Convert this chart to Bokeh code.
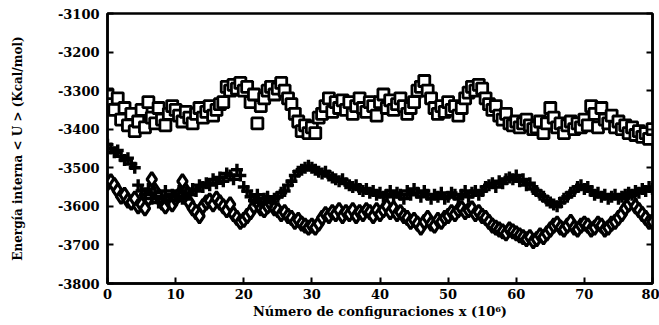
import pandas as pd
from bokeh.plotting import figure
from bokeh.models import FixedTicker, LinearAxis, Range1d, ColumnDataSource
from bokeh.embed import file_html
from bokeh.resources import INLINE

# x positions (configurations x 10^6), step 0.5
x_vals = [i * 0.5 for i in range(161)]

squares = [
    -3310, -3335, -3350, -3320, -3375, -3345, -3390, -3360, -3405, -3380,
    -3350, -3395, -3330, -3370, -3385, -3345, -3375, -3390, -3360, -3340,
    -3350, -3365, -3380, -3355, -3370, -3385, -3360, -3345, -3370, -3355,
    -3340, -3365, -3350, -3335, -3330, -3290, -3300, -3285, -3295, -3280,
    -3300, -3290, -3330, -3310, -3385, -3340, -3320, -3300, -3290, -3310,
    -3295, -3280, -3300, -3320, -3335, -3360, -3380, -3405, -3390, -3410,
    -3395, -3410, -3370, -3360, -3340, -3320, -3355, -3330, -3345, -3325,
    -3350, -3330, -3360, -3340, -3320, -3345, -3355, -3330, -3340, -3365,
    -3330, -3310, -3345, -3325, -3350, -3335, -3320, -3340, -3360, -3345,
    -3330, -3300, -3290, -3275, -3300, -3320, -3345, -3360, -3340, -3355,
    -3330, -3350, -3340, -3365, -3345, -3320, -3305, -3290, -3300, -3285,
    -3295, -3320, -3335, -3350, -3340, -3365, -3375, -3360, -3385, -3390,
    -3380, -3395, -3385, -3375, -3390, -3400, -3395, -3380, -3410, -3385,
    -3345, -3370, -3395, -3385, -3410, -3390, -3380, -3400, -3385, -3395,
    -3375, -3390, -3340, -3360, -3395, -3345, -3375, -3385, -3365, -3395,
    -3380, -3400, -3390, -3410, -3395, -3415, -3405, -3420, -3410, -3425,
    -3400,
]

crosses = [
    -3440, -3450, -3460, -3455, -3470, -3480, -3475, -3490, -3500, -3545,
    -3560, -3570, -3555, -3580, -3565, -3590, -3575, -3560, -3585, -3570,
    -3575, -3560, -3580, -3565, -3570, -3555, -3560, -3545, -3550, -3540,
    -3545, -3530, -3540, -3525, -3535, -3515, -3520, -3530, -3505, -3520,
    -3550, -3560, -3575, -3585, -3570, -3590, -3580, -3575, -3590, -3580,
    -3575, -3565, -3560, -3545, -3535, -3520, -3510, -3505, -3500, -3495,
    -3500, -3505, -3510, -3515, -3510, -3520, -3525, -3530, -3535, -3530,
    -3540, -3545, -3550, -3545, -3555, -3560, -3555, -3565, -3560, -3570,
    -3565, -3575, -3570, -3560, -3575, -3565, -3570, -3580, -3560, -3570,
    -3555, -3565, -3575, -3560, -3570, -3580, -3570, -3575, -3565, -3580,
    -3575, -3565, -3570, -3580, -3570, -3560, -3575, -3565, -3560, -3570,
    -3560, -3550, -3545, -3540, -3550, -3535, -3540, -3530, -3525, -3530,
    -3520, -3535, -3530, -3545, -3540, -3555, -3560, -3570, -3575, -3585,
    -3590, -3595, -3600, -3590, -3580, -3575, -3565, -3560, -3550, -3545,
    -3555, -3550, -3560, -3570, -3565, -3575, -3570, -3580, -3575, -3570,
    -3580, -3575, -3570, -3565, -3570, -3560, -3565, -3555, -3560, -3550,
    -3555,
]

diamonds = [
    -3540, -3535, -3545, -3560, -3575, -3570, -3585, -3590, -3580, -3600,
    -3595, -3605, -3580, -3530, -3560, -3575, -3590, -3600, -3585, -3595,
    -3580, -3570, -3535, -3560, -3590, -3605, -3615, -3625, -3600, -3590,
    -3585, -3595, -3580, -3590, -3600, -3610, -3595, -3620, -3630, -3640,
    -3635, -3625, -3615, -3600, -3590, -3605, -3610, -3600, -3595, -3605,
    -3610, -3620, -3615, -3625, -3630, -3640, -3635, -3645, -3650, -3655,
    -3650, -3655, -3645, -3630, -3620, -3625, -3615, -3620, -3610, -3625,
    -3615, -3620, -3610, -3625, -3615, -3620, -3610, -3615, -3625, -3610,
    -3620, -3610, -3600, -3615, -3605, -3620, -3615, -3625, -3630, -3640,
    -3635, -3645, -3655, -3640, -3630, -3645, -3650, -3635, -3640, -3630,
    -3625, -3615, -3620, -3610, -3605, -3615, -3610, -3605, -3620, -3615,
    -3625, -3630, -3640, -3650, -3655, -3660, -3665, -3670, -3660, -3665,
    -3670, -3675, -3680, -3685, -3680, -3690, -3685, -3675, -3680, -3670,
    -3660, -3650, -3645, -3655, -3660, -3650, -3640, -3655, -3660, -3650,
    -3645, -3650, -3660, -3655, -3645, -3650, -3660, -3655, -3645, -3640,
    -3630, -3620, -3605, -3595, -3585, -3600, -3610, -3620, -3630, -3640,
    -3640,
]

x_ticks = [0, 10, 20, 30, 40, 50, 60, 70, 80]
x_tick_labels = ["0", "10", "20", "30", "40", "50", "60", "70", "80"]
y_ticks = [-3800, -3700, -3600, -3500, -3400, -3300, -3200, -3100]
y_tick_labels = ["-3800", "-3700", "-3600", "-3500", "-3400", "-3300", "-3200", "-3100"]

x_title = "Número de configuraciones x (10⁶)"
y_title = "Energía interna < U > (Kcal/mol)"

FONT = "DejaVu Serif"

df = pd.DataFrame({"x": x_vals, "s": squares, "c": crosses, "d": diamonds})
df["s_avg"] = df["s"].rolling(9, center=True, min_periods=1).mean()
src = ColumnDataSource(df)

p = figure(width=659, height=325, output_backend="svg", toolbar_location=None,
           x_range=Range1d(0, 80), y_range=Range1d(-3800, -3100),
           min_border_left=107, min_border_right=7, min_border_top=13,
           min_border_bottom=42)
p.xgrid.visible = False
p.ygrid.visible = False
p.outline_line_color = "black"
p.outline_line_width = 2.5
p.background_fill_color = "white"
p.border_fill_color = "white"

p.line("x", "s_avg", source=src, line_color="black", line_width=1.5, line_dash="1 3")
p.scatter("x", "s", source=src, marker="square", size=11, fill_color="white",
          line_color="black", line_width=2.8)
p.scatter("x", "d", source=src, marker="diamond", size=14, fill_color="white",
          line_color="black", line_width=3.2)
p.scatter("x", "c", source=src, marker="cross", size=12,
          line_color="black", line_width=3.4)

def style_axis(ax):
    ax.axis_line_width = 2.5
    ax.axis_line_color = "black"
    ax.major_tick_in = 6
    ax.major_tick_out = 0
    ax.major_tick_line_width = 2
    ax.minor_tick_line_color = None
    ax.major_label_text_font = FONT
    ax.major_label_text_font_style = "bold"
    ax.major_label_text_color = "black"
    ax.axis_label_text_font = FONT
    ax.axis_label_text_font_style = "bold"
    ax.axis_label_text_color = "black"

xa = p.xaxis[0]
style_axis(xa)
xa.ticker = FixedTicker(ticks=x_ticks)
xa.major_label_overrides = dict(zip(x_ticks, x_tick_labels))
xa.major_label_text_font_size = "13px"
xa.major_label_standoff = 5
xa.axis_label = x_title
xa.axis_label_text_font_size = "13px"
xa.axis_label_standoff = 2

ya = p.yaxis[0]
style_axis(ya)
ya.ticker = FixedTicker(ticks=y_ticks)
ya.major_label_overrides = dict(zip(y_ticks, y_tick_labels))
ya.major_label_text_font_size = "13px"
ya.major_label_standoff = 8
ya.axis_label = y_title
ya.axis_label_text_font_size = "12px"
ya.axis_label_standoff = 30

ra = LinearAxis(ticker=FixedTicker(ticks=y_ticks))
style_axis(ra)
ra.major_label_overrides = {t: "" for t in y_ticks}
ra.major_label_standoff = 0
p.add_layout(ra, "right")

open("out.html", "w").write(file_html(p, INLINE))
